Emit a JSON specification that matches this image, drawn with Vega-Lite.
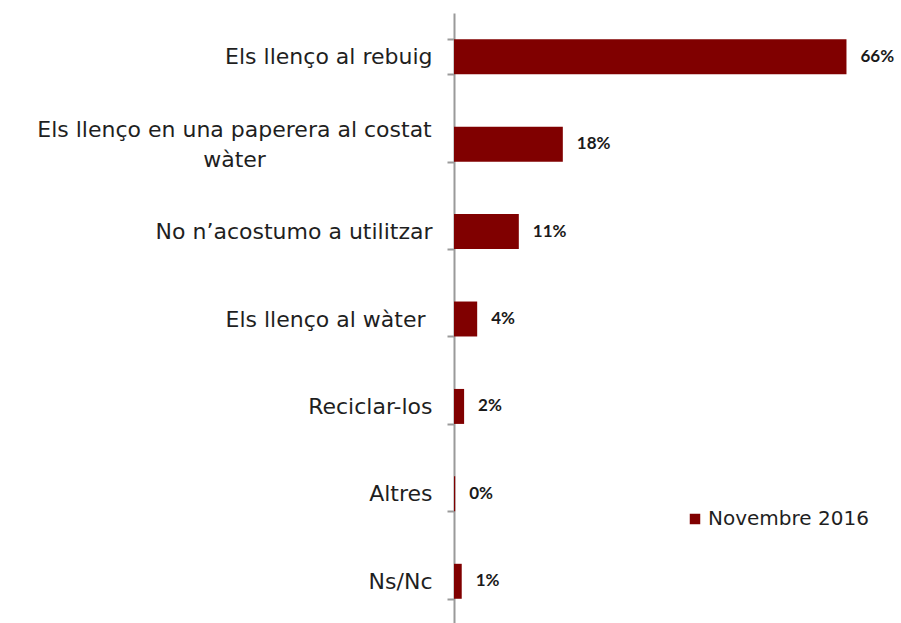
{
  "$schema": "https://vega.github.io/schema/vega-lite/v6.json",
  "width": 446,
  "height": 612,
  "autosize": {"type": "none"},
  "padding": {"left": 454, "top": 13, "right": 1, "bottom": 0},
  "background": "white",
  "data": {
    "values": [
      {"cat": "Els llenço al rebuig", "v": 66.0, "lab": "66%", "series": "Novembre 2016"},
      {"cat": "Els llenço en una paperera al costat wàter", "v": 18.3, "lab": "18%", "series": "Novembre 2016"},
      {"cat": "No n’acostumo a utilitzar", "v": 10.9, "lab": "11%", "series": "Novembre 2016"},
      {"cat": "Els llenço al wàter", "v": 3.9, "lab": "4%", "series": "Novembre 2016"},
      {"cat": "Reciclar-los", "v": 1.7, "lab": "2%", "series": "Novembre 2016"},
      {"cat": "Altres", "v": 0.2, "lab": "0%", "series": "Novembre 2016"},
      {"cat": "Ns/Nc", "v": 1.3, "lab": "1%", "series": "Novembre 2016"}
    ]
  },
  "encoding": {
    "y": {
      "field": "cat",
      "type": "nominal",
      "sort": null,
      "scale": {"paddingInner": 0.6, "paddingOuter": 0.3},
      "axis": {
        "title": null,
        "domainColor": "#9a9a9a",
        "domainWidth": 2,
        "tickColor": "#9a9a9a",
        "tickWidth": 2,
        "tickSize": 7,
        "tickBand": "extent",
        "labelPadding": {"condition": [
          {"test": "datum.value == 'Els llenço en una paperera al costat wàter'", "value": 213},
          {"test": "datum.value == 'Els llenço al wàter'", "value": 22}
        ], "value": 15},
        "labelAlign": {"condition": {"test": "datum.value == 'Els llenço en una paperera al costat wàter'", "value": "center"}, "value": "right"},
        "labelOffset": {"condition": {"test": "datum.value == 'Els llenço en una paperera al costat wàter'", "value": -15}, "value": 0},
        "labelFont": "DejaVu Sans",
        "labelFontSize": 22,
        "labelColor": "#1f1f1f",
        "labelLimit": 600,
        "labelLineHeight": 30,
        "labelExpr": "datum.value == 'Els llenço en una paperera al costat wàter' ? ['Els llenço en una paperera al costat', 'wàter'] : datum.value"
      }
    },
    "x": {
      "field": "v",
      "type": "quantitative",
      "scale": {"domain": [0, 75]},
      "axis": null
    }
  },
  "layer": [
    {
      "mark": {"type": "bar", "color": "#800000"},
      "encoding": {
        "color": {
          "field": "series",
          "type": "nominal",
          "scale": {"range": ["#800000"]},
          "legend": {
            "title": null,
            "orient": "none",
            "legendX": 231,
            "legendY": 496,
            "symbolType": "square",
            "symbolSize": 110,
            "symbolStrokeWidth": 0,
            "labelFont": "DejaVu Sans",
            "labelFontSize": 20,
            "labelColor": "#1f1f1f",
            "labelLimit": 400,
            "labelOffset": 3
          }
        }
      }
    },
    {
      "mark": {"type": "text", "align": "left", "baseline": "middle", "dx": 14, "font": "Lato", "fontWeight": "bold", "fontSize": 17, "color": "#1a1a1a"},
      "encoding": {"text": {"field": "lab"}}
    }
  ],
  "config": {"view": {"stroke": null}}
}
